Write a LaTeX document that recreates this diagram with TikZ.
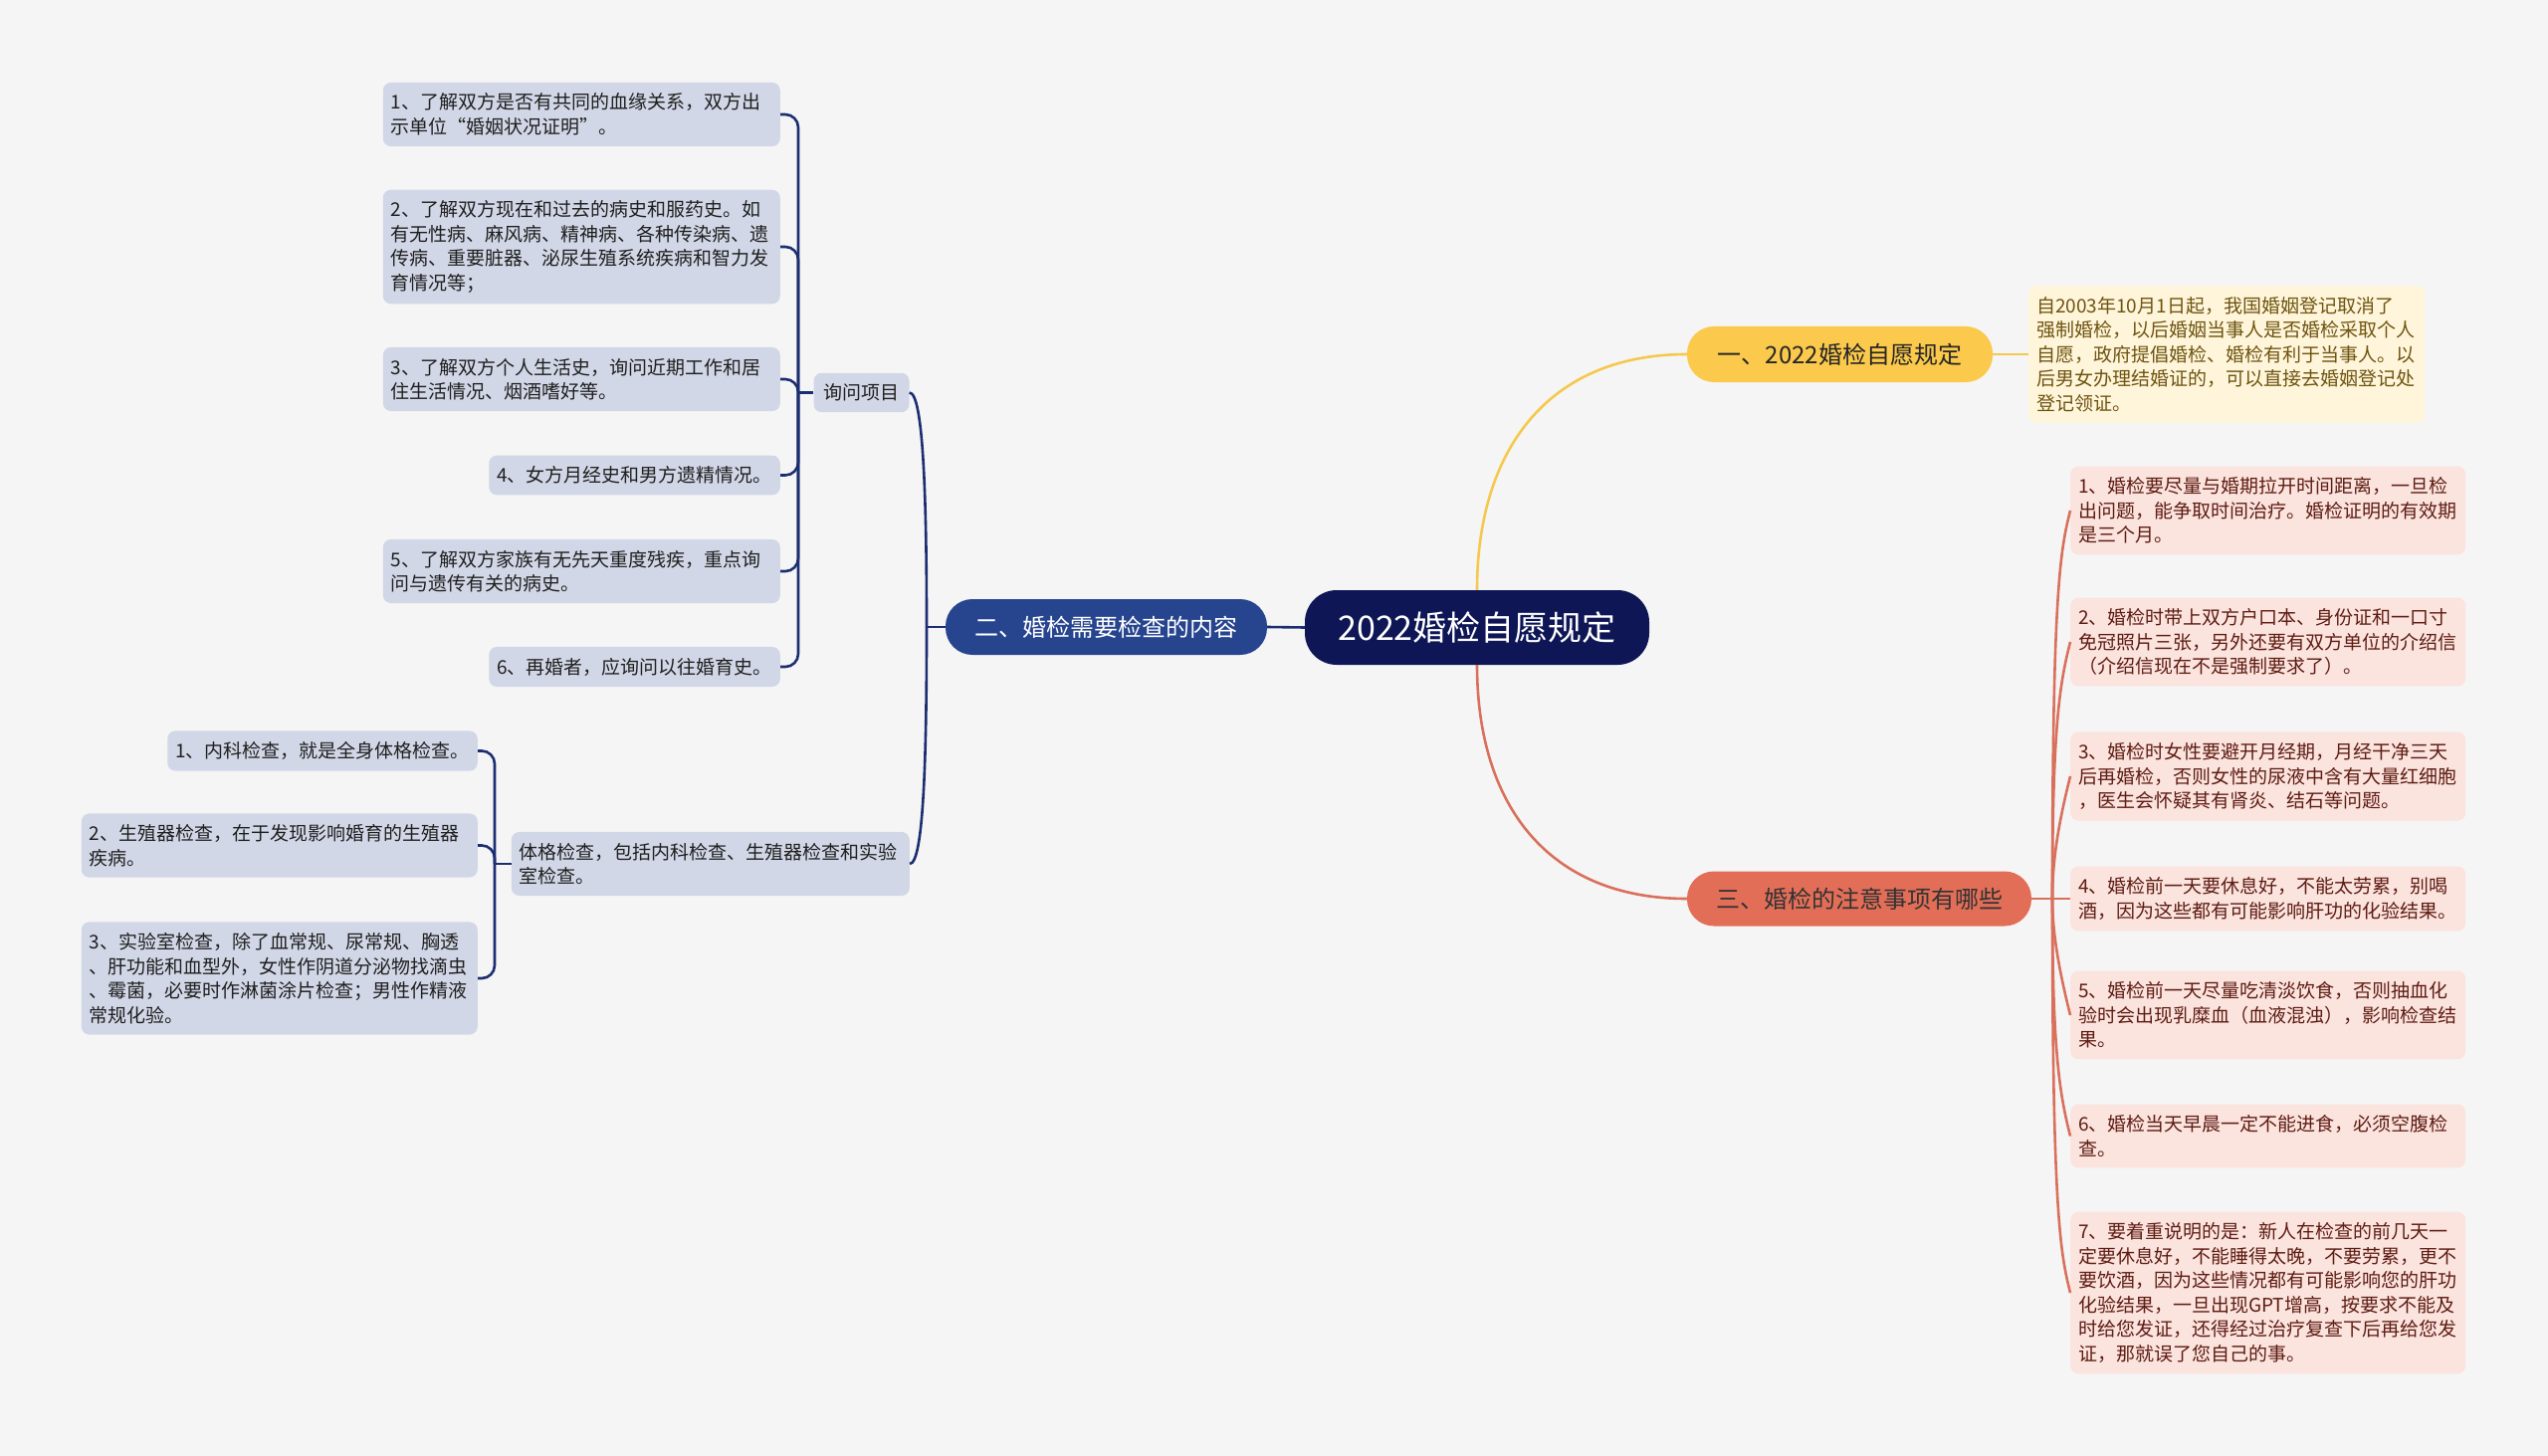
\documentclass[tikz,border=0pt]{standalone}
\usepackage{fontspec}
\setmainfont{Noto Sans CJK SC}
\usetikzlibrary{calc}

\definecolor{bgc}{HTML}{F5F5F5}
\definecolor{rootc}{HTML}{0E1656}
\definecolor{navyl}{HTML}{1C2E72}
\definecolor{bluec}{HTML}{27458F}
\definecolor{lavc}{HTML}{D2D7E7}
\definecolor{yelc}{HTML}{FBC94B}
\definecolor{yell}{HTML}{F5C84E}
\definecolor{creamc}{HTML}{FFF5DA}
\definecolor{olivet}{HTML}{6E5410}
\definecolor{redc}{HTML}{E36E58}
\definecolor{redl}{HTML}{D9705C}
\definecolor{pinkc}{HTML}{FBE3DE}
\definecolor{brownt}{HTML}{5E1C12}

\begin{document}
\begin{tikzpicture}[x=1pt,y=1pt]
\tikzstyle{leaf} = [rounded corners=8pt,inner xsep=8pt,inner ysep=11pt,align=left,font=\fontsize{19}{24.5}\selectfont]
\tikzstyle{askleaf} = [leaf,fill=lavc,text=black!88]
\tikzstyle{pinkleaf} = [leaf,fill=pinkc,text=brownt,anchor=west,text width=381pt]
\tikzstyle{branch} = [rounded corners=27pt,minimum height=56pt,font=\fontsize{24}{28}\selectfont]
\tikzstyle{navyline} = [draw=navyl,line width=2.6pt]
\tikzstyle{redline} = [draw=redl,line width=2.6pt]

\useasboundingbox (0,0) rectangle (2560,-1463);
\fill[bgc] (0,0) rectangle (2560,-1463);

\node[fill=rootc,text=white,rounded corners=32pt,minimum width=346pt,minimum height=75pt,font=\fontsize{34}{38}\selectfont] (root) at (1484,-630.5) {2022婚检自愿规定};

\node[branch,fill=yelc,text=black!85,minimum width=307pt] (b1) at (1848.5,-356) {一、2022婚检自愿规定};
\node[branch,fill=bluec,text=white,minimum width=323pt] (b2) at (1111.5,-630) {二、婚检需要检查的内容};
\node[branch,fill=redc,text=black!80,minimum width=346pt,minimum height=55pt] (b3) at (1868,-903) {三、婚检的注意事项有哪些};

% branch one
\node[leaf,fill=creamc,text=olivet,anchor=west,text width=382pt] (note) at (2038,-356) {自2003年10月1日起，我国婚姻登记取消了\\强制婚检，以后婚姻当事人是否婚检采取个人\\自愿，政府提倡婚检、婚检有利于当事人。以\\后男女办理结婚证的，可以直接去婚姻登记处\\登记领证。};

% branch two
\node[askleaf,inner xsep=10pt] (ask) at (865.5,-394.5) {询问项目};
\node[askleaf,anchor=east,text width=383pt] (a1) at (784,-115) {1、了解双方是否有共同的血缘关系，双方出\\示单位“婚姻状况证明”。};
\node[askleaf,anchor=east,text width=383pt] (a2) at (784,-248) {2、了解双方现在和过去的病史和服药史。如\\有无性病、麻风病、精神病、各种传染病、遗\\传病、重要脏器、泌尿生殖系统疾病和智力发\\育情况等；};
\node[askleaf,anchor=east,text width=383pt] (a3) at (784,-381) {3、了解双方个人生活史，询问近期工作和居\\住生活情况、烟酒嗜好等。};
\node[askleaf,anchor=east] (a4) at (784,-477.5) {4、女方月经史和男方遗精情况。};
\node[askleaf,anchor=east,text width=383pt] (a5) at (784,-574) {5、了解双方家族有无先天重度残疾，重点询\\问与遗传有关的病史。};
\node[askleaf,anchor=east] (a6) at (784,-670) {6、再婚者，应询问以往婚育史。};

\node[askleaf,anchor=east,text width=384pt] (body) at (914,-868) {体格检查，包括内科检查、生殖器检查和实验\\室检查。};
\node[askleaf,anchor=east] (p1) at (480,-754.5) {1、内科检查，就是全身体格检查。};
\node[askleaf,anchor=east,text width=382pt] (p2) at (480,-849.5) {2、生殖器检查，在于发现影响婚育的生殖器\\疾病。};
\node[askleaf,anchor=east,text width=382pt] (p3) at (480,-983) {3、实验室检查，除了血常规、尿常规、胸透\\、肝功能和血型外，女性作阴道分泌物找滴虫\\、霉菌，必要时作淋菌涂片检查；男性作精液\\常规化验。};

% branch three
\node[pinkleaf] (r1) at (2080,-513) {1、婚检要尽量与婚期拉开时间距离，一旦检\\出问题，能争取时间治疗。婚检证明的有效期\\是三个月。};
\node[pinkleaf] (r2) at (2080,-645) {2、婚检时带上双方户口本、身份证和一口寸\\免冠照片三张，另外还要有双方单位的介绍信\\（介绍信现在不是强制要求了）。};
\node[pinkleaf] (r3) at (2080,-780) {3、婚检时女性要避开月经期，月经干净三天\\后再婚检，否则女性的尿液中含有大量红细胞\\，医生会怀疑其有肾炎、结石等问题。};
\node[pinkleaf] (r4) at (2080,-903) {4、婚检前一天要休息好，不能太劳累，别喝\\酒，因为这些都有可能影响肝功的化验结果。};
\node[pinkleaf] (r5) at (2080,-1020) {5、婚检前一天尽量吃清淡饮食，否则抽血化\\验时会出现乳糜血（血液混浊），影响检查结\\果。};
\node[pinkleaf] (r6) at (2080,-1141.5) {6、婚检当天早晨一定不能进食，必须空腹检\\查。};
\node[pinkleaf] (r7) at (2080,-1299) {7、要着重说明的是：新人在检查的前几天一\\定要休息好，不能睡得太晚，不要劳累，更不\\要饮酒，因为这些情况都有可能影响您的肝功\\化验结果，一旦出现GPT增高，按要求不能及\\时给您发证，还得经过治疗复查下后再给您发\\证，那就误了您自己的事。};

% connectors
\coordinate (jl) at (931,-630);
\coordinate (ja) at (802,-394.5);
\coordinate (jb) at (497,-868);
\coordinate (jr) at (2062,-903);

\draw[navyline] (root.west) -- (b2.east);
\draw[navyline] (b2.west) -- (jl);
\draw[navyline] (jl) .. controls ($(jl)+(0,130)$) and ($(ask.east)+(14,0)$) .. (ask.east);
\draw[navyline] (jl) .. controls ($(jl)+(0,-130)$) and ($(body.east)+(14,0)$) .. (body.east);
\draw[navyline] (ask.west) -- (ja);
\foreach \n in {a1,a2,a3,a4,a5,a6}
  \draw[navyline,rounded corners=13pt] (ja) |- (\n.east);
\draw[navyline] (body.west) -- (jb);
\foreach \n in {p1,p2,p3}
  \draw[navyline,rounded corners=13pt] (jb) |- (\n.east);

\draw[draw=yell,line width=2.6pt] (root.north) .. controls ($(root.north)+(0,140)$) and ($(b1.west)+(-140,0)$) .. (b1.west);
\draw[draw=yell,line width=2.6pt] (b1.east) -- (note.west);

\draw[redline] (root.south) .. controls ($(root.south)+(0,-140)$) and ($(b3.west)+(-140,0)$) .. (b3.west);
\draw[redline] (b3.east) -- (r4.west);
\foreach \n in {r1,r2,r3}
  \draw[redline] (jr) .. controls ($(\n.west)+(-18,-80)$) and ($(\n.west)+(-10,-40)$) .. (\n.west);
\foreach \n in {r5,r6,r7}
  \draw[redline] (jr) .. controls ($(\n.west)+(-18,80)$) and ($(\n.west)+(-10,40)$) .. (\n.west);

\end{tikzpicture}
\end{document}
